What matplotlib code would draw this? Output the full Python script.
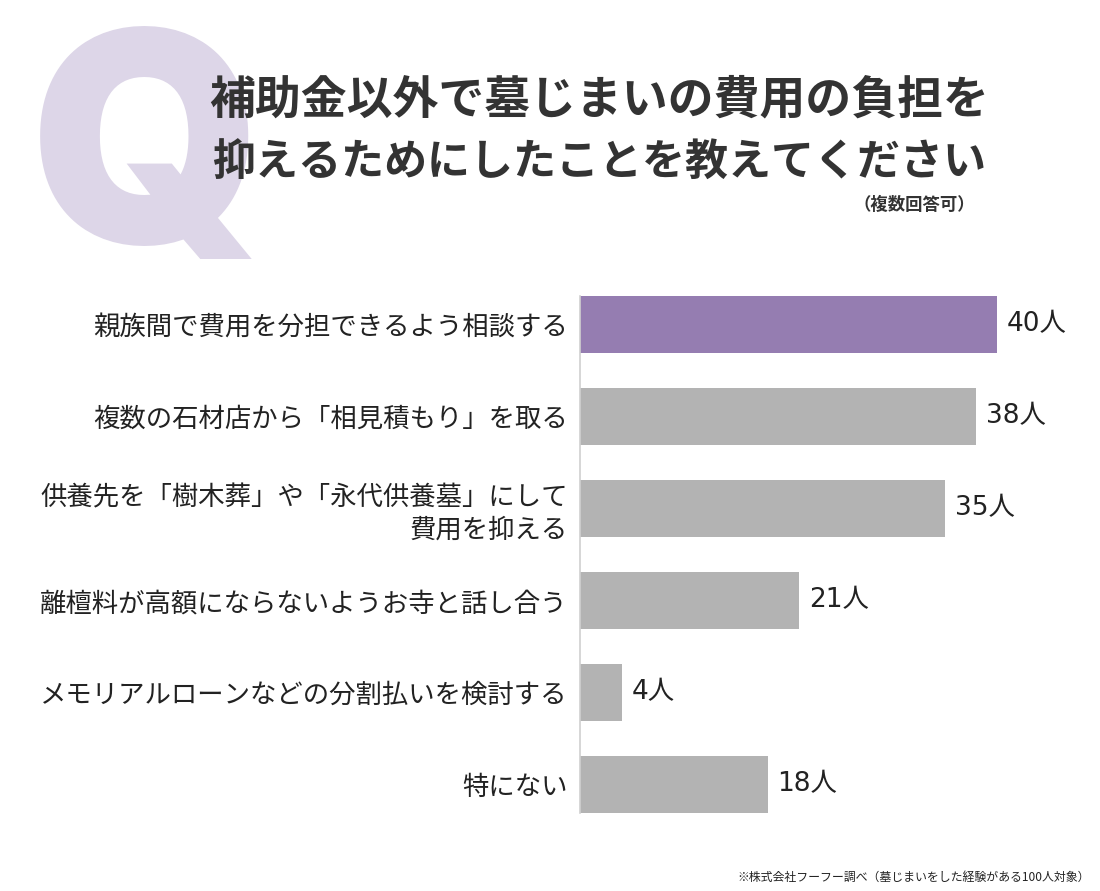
import matplotlib
matplotlib.use("Agg")
import matplotlib.pyplot as plt

plt.rcParams['font.family'] = ['Noto Sans CJK JP', 'DejaVu Sans']

# data
labels = [
    "親族間で費用を分担できるよう相談する",
    "複数の石材店から「相見積もり」を取る",
    "供養先を「樹木葬」や「永代供養墓」にして\n費用を抑える",
    "離檀料が高額にならないようお寺と話し合う",
    "メモリアルローンなどの分割払いを検討する",
    "特にない",
]
counts = [40, 38, 35, 21, 4, 18]
unit = "人"

title_line1 = "補助金以外で墓じまいの費用の負担を"
title_line2 = "抑えるためにしたことを教えてください"
subtitle = "（複数回答可）"
footnote = "※株式会社フーフー調べ（墓じまいをした経験がある100人対象）"

purple = "#957db1"
gray = "#b3b3b3"
text_col = "#222222"

W, H = 1100, 891
fig = plt.figure(figsize=(W / 100, H / 100), dpi=100)
fig.patch.set_facecolor("white")

# big Q in the background
fig.text(30 / W, 1 - 243 / H, "Q", family="Inter", weight="black",
         fontsize=212, color="#ddd6e8", ha="left", va="baseline", zorder=0)

fig.text(599 / W, 1 - 100 / H, title_line1, fontsize=33, weight="bold",
         color="#333333", ha="center", va="center")
fig.text(599 / W, 1 - 163 / H, title_line2, fontsize=31, weight="bold",
         color="#333333", ha="center", va="center")
fig.text(975 / W, 1 - 205 / H, subtitle, fontsize=12.5, weight="bold",
         color="#333333", ha="right", va="center")
fig.text(1090 / W, 1 - 877 / H, footnote, fontsize=8.6,
         color=text_col, ha="right", va="center")

# axes: left edge at x=580 px, bars from y=296 to 813 px
ax_left, ax_right = 580, 1080
ax_top, ax_bot = 296, 813
ax = fig.add_axes([ax_left / W, 1 - ax_bot / H,
                   (ax_right - ax_left) / W, (ax_bot - ax_top) / H])
px_per_unit = 417 / 40
ax.set_xlim(0, (ax_right - ax_left) / px_per_unit)
bar_h = 57 / 92
ax.set_ylim(len(labels) - 1 + bar_h / 2, -bar_h / 2)

ypos = list(range(len(labels)))
colors = [purple] + [gray] * (len(labels) - 1)
ax.barh(ypos, counts, height=bar_h, color=colors, zorder=2)

for y, v in zip(ypos, counts):
    ax.text(v + 0.95, y, f"{v}{unit}", fontsize=19, color=text_col,
            family=['DejaVu Sans', 'Noto Sans CJK JP'],
            ha="left", va="center")

ax.set_yticks(ypos)
ax.set_yticklabels(labels, fontsize=19, color=text_col, linespacing=1.25)
ax.tick_params(axis="y", length=0, pad=9)
ax.set_xticks([])
for s in ["top", "right", "bottom"]:
    ax.spines[s].set_visible(False)
ax.spines["left"].set_color("#d0d0d0")
ax.spines["left"].set_linewidth(1.2)
ax.patch.set_alpha(0)

fig.savefig("out.png", dpi=100, facecolor="white")
